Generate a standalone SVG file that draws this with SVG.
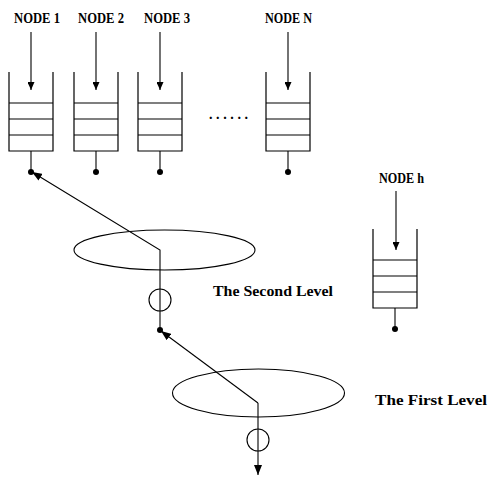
<svg xmlns="http://www.w3.org/2000/svg" width="488" height="477" viewBox="0 0 488 477">
<style>
.lbl{font-family:"Liberation Serif","Times New Roman",serif;font-weight:bold;font-size:14px;fill:#000}
.q{fill:none;stroke:#000;stroke-width:1.2}
.ln{fill:none;stroke:#000;stroke-width:1.1}
.dot{fill:#000}
</style>
<defs>
<marker id="ah" viewBox="0 0 10 8" refX="10" refY="4" markerWidth="10" markerHeight="8" markerUnits="userSpaceOnUse" orient="auto"><path d="M0,0 L10,4 L0,8 z" fill="#000"/></marker>
<marker id="ahs" viewBox="0 0 8 7" refX="8" refY="3.5" markerWidth="8" markerHeight="7" markerUnits="userSpaceOnUse" orient="auto"><path d="M0,0 L8,3.5 L0,7 z" fill="#000"/></marker>
<g id="queue">
<path class="q" d="M0,0 V79 H44 V0"/>
<path class="ln" d="M0,31 H44 M0,47 H44 M0,63 H44"/>
<line class="ln" x1="22" y1="79" x2="22" y2="100"/>
<circle class="dot" cx="22" cy="100" r="3"/>
</g>
</defs>
<g id="node1">
<text class="lbl" x="14" y="23" textLength="46" lengthAdjust="spacingAndGlyphs">NODE 1</text>
<line class="ln" x1="31" y1="32" x2="31" y2="90" marker-end="url(#ahs)"/>
<use href="#queue" x="9" y="72"/>
</g>
<g id="node2">
<text class="lbl" x="78" y="23" textLength="46" lengthAdjust="spacingAndGlyphs">NODE 2</text>
<line class="ln" x1="96" y1="32" x2="96" y2="90" marker-end="url(#ahs)"/>
<use href="#queue" x="74" y="72"/>
</g>
<g id="node3">
<text class="lbl" x="144" y="23" textLength="46" lengthAdjust="spacingAndGlyphs">NODE 3</text>
<line class="ln" x1="160" y1="32" x2="160" y2="90" marker-end="url(#ahs)"/>
<use href="#queue" x="138" y="72"/>
</g>
<g id="ellipsis">
<text class="lbl" x="209" y="119" textLength="39" lengthAdjust="spacing">......</text>
</g>
<g id="nodeN">
<text class="lbl" x="265" y="23" textLength="47" lengthAdjust="spacingAndGlyphs">NODE N</text>
<line class="ln" x1="288" y1="32" x2="288" y2="90" marker-end="url(#ahs)"/>
<use href="#queue" x="266" y="72"/>
</g>
<g id="nodeh">
<text class="lbl" x="379" y="183" textLength="45" lengthAdjust="spacingAndGlyphs">NODE h</text>
<line class="ln" x1="396" y1="191" x2="396" y2="250" marker-end="url(#ahs)"/>
<use href="#queue" x="373" y="229"/>
</g>
<g id="second-level">
<ellipse class="ln" cx="164.5" cy="250" rx="90.5" ry="20"/>
<circle class="ln" cx="160" cy="300" r="11"/>
<circle class="dot" cx="160" cy="330" r="3"/>
<text class="lbl" x="213" y="296" textLength="120" lengthAdjust="spacingAndGlyphs">The Second Level</text>
</g>
<g id="first-level">
<ellipse class="ln" cx="258.5" cy="393" rx="86" ry="24"/>
<circle class="ln" cx="258" cy="440" r="11"/>
<text class="lbl" x="375" y="405" textLength="112" lengthAdjust="spacingAndGlyphs">The First Level</text>
</g>
<g id="connectors">
<polyline class="ln" points="160,330 160,250 32,172" marker-end="url(#ah)"/>
<line class="ln" x1="258" y1="403" x2="161" y2="331" marker-end="url(#ah)"/>
<line class="ln" x1="258" y1="403" x2="258" y2="475" marker-end="url(#ah)"/>
</g>
</svg>
